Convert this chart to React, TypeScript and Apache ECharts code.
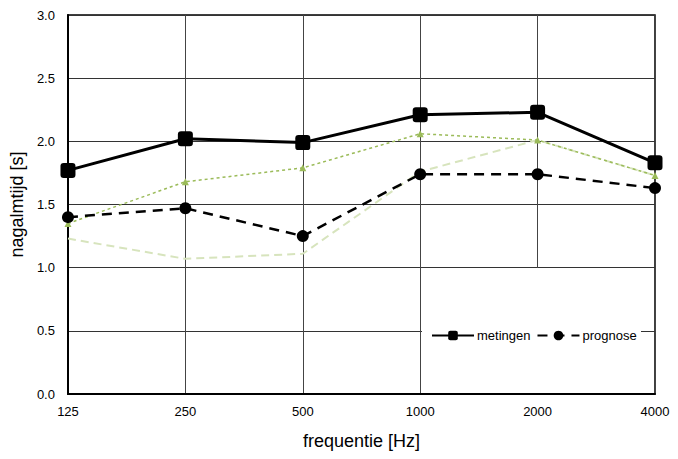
import React, { useEffect, useRef } from "react";
import * as echarts from "echarts";

const categories = ["125", "250", "500", "1000", "2000", "4000"];
const metingen = [1.77, 2.02, 1.99, 2.21, 2.23, 1.83];
const prognose = [1.4, 1.47, 1.25, 1.74, 1.74, 1.63];
const greenDotted = [1.35, 1.68, 1.79, 2.06, 2.01, 1.73];
const paleDashed = [1.23, 1.07, 1.11, 1.76, 2.01, 1.73];

const FONT = "'Liberation Sans', Arial, sans-serif";

export default function App() {
  const ref = useRef<HTMLDivElement>(null);
  useEffect(() => {
    if (!ref.current) return;
    const chart = echarts.init(ref.current, undefined, { renderer: "svg" });
    chart.setOption({
      animation: false,
      textStyle: { fontFamily: FONT },
      grid: {
        left: 67,
        right: 23,
        top: 15,
        bottom: 65,
        show: true,
        borderColor: "#000",
        borderWidth: 1.5,
        backgroundColor: "transparent",
      },
      xAxis: {
        type: "category",
        data: categories,
        boundaryGap: false,
        name: "frequentie [Hz]",
        nameLocation: "middle",
        nameGap: 38,
        nameTextStyle: { fontSize: 18, color: "#000", fontFamily: FONT },
        axisLine: { lineStyle: { color: "#000", width: 2 } },
        axisTick: { show: false },
        axisLabel: { color: "#000", fontSize: 13, margin: 11, fontFamily: FONT },
        splitLine: { show: true, lineStyle: { color: "#444", width: 1 } },
      },
      yAxis: {
        type: "value",
        min: 0,
        max: 3,
        interval: 0.5,
        name: "nagalmtijd [s]",
        nameLocation: "middle",
        nameGap: 40,
        nameTextStyle: { fontSize: 18, color: "#000", fontFamily: FONT },
        axisLine: { show: true, lineStyle: { color: "#000", width: 2 } },
        axisTick: { show: false },
        axisLabel: {
          color: "#000",
          fontSize: 13,
          margin: 13,
          fontFamily: FONT,
          formatter: (v: number) => v.toFixed(1),
        },
        splitLine: { show: true, lineStyle: { color: "#333", width: 1 } },
      },
      graphic: [
        {
          type: "rect",
          z: 1,
          shape: { x: 422, y: 268, width: 219, height: 125 },
          style: { fill: "#fff" },
        },
      ],
      legend: {
        data: ["metingen", "prognose"],
        left: 426,
        top: 324,
        itemWidth: 42,
        itemHeight: 12,
        itemGap: 6,
        z: 5,
        textStyle: { fontSize: 13, color: "#000", fontFamily: FONT, padding: [0, 0, 0, -2] },
      },
      series: [
        {
          name: "pale",
          type: "line",
          data: paleDashed,
          z: 2,
          symbol: "none",
          lineStyle: { color: "#D7E4BD", width: 2, type: [8, 5] },
          itemStyle: { color: "#D7E4BD" },
        },
        {
          name: "green",
          type: "line",
          data: greenDotted,
          z: 3,
          symbol: "triangle",
          symbolSize: 7,
          lineStyle: { color: "#9BBB59", width: 1.5, type: [3, 3] },
          itemStyle: { color: "#9BBB59" },
        },
        {
          name: "prognose",
          type: "line",
          data: prognose,
          z: 4,
          symbol: "circle",
          symbolSize: 12,
          lineStyle: { color: "#000", width: 2.5, type: [10, 7] },
          itemStyle: { color: "#000" },
        },
        {
          name: "metingen",
          type: "line",
          data: metingen,
          z: 5,
          symbol: "path://M3,0 H11 Q14,0 14,3 V11 Q14,14 11,14 H3 Q0,14 0,11 V3 Q0,0 3,0 Z",
          symbolSize: 15,
          lineStyle: { color: "#000", width: 3 },
          itemStyle: { color: "#000" },
        },
      ],
    });
    return () => chart.dispose();
  }, []);
  return <div ref={ref} style={{ width: 678, height: 459, position: "absolute", left: 0, top: 0 }} />;
}
